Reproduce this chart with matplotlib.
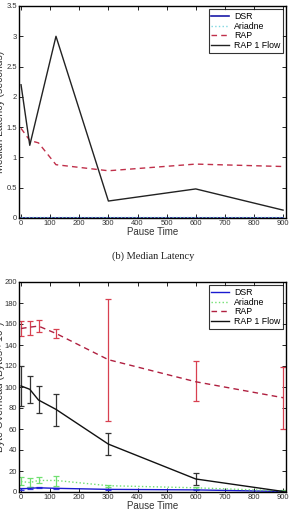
import matplotlib
matplotlib.use("Agg")
import matplotlib.pyplot as plt
import numpy as np

plt.rcParams['font.family'] = ['Liberation Sans', 'DejaVu Sans']

pause = [0, 30, 60, 120, 300, 600, 900]

# Median latency (seconds)
lat_dsr = [0.005, 0.005, 0.005, 0.005, 0.005, 0.005, 0.005]
lat_ariadne = [0.01, 0.01, 0.01, 0.01, 0.01, 0.01, 0.01]
lat_rap = [1.48, 1.28, 1.24, 0.88, 0.78, 0.89, 0.85]
lat_rap1 = [2.2, 1.2, 1.8, 3.0, 0.28, 0.48, 0.13]

# Byte overhead
ov_dsr = [3.0, 3.5, 4.0, 3.5, 2.5, 2.0, 0.5]
ov_dsr_lo = [2.0, 2.5, 3.5, 2.8, 2.0, 1.5, 0.2]
ov_dsr_hi = [4.0, 4.5, 4.5, 4.2, 3.0, 2.5, 0.8]
ov_ari = [10.0, 9.0, 11.0, 11.0, 6.0, 4.0, 1.0]
ov_ari_lo = [7.0, 5.0, 9.0, 6.0, 5.0, 3.0, 0.5]
ov_ari_hi = [14.0, 13.0, 14.0, 15.0, 7.0, 5.0, 1.5]
ov_rap = [155.7, 157.0, 158.0, 151.0, 126.0, 105.0, 89.8]
ov_rap_lo = [148.4, 150.0, 152.0, 147.0, 67.8, 86.3, 59.6]
ov_rap_hi = [162.7, 163.0, 164.0, 155.0, 184.0, 125.0, 119.4]
ov_rap1 = [101.0, 97.8, 87.6, 78.7, 45.6, 12.4, 0.5]
ov_rap1_lo = [82.0, 85.0, 74.9, 62.4, 35.4, 7.0, 0.2]
ov_rap1_hi = [120.0, 110.5, 100.7, 93.0, 56.4, 17.9, 0.8]

labels = ["DSR", "Ariadne", "RAP", "RAP 1 Flow"]
xticks = list(range(0, 901, 100))

W, H = 291, 519
fig = plt.figure(figsize=(W / 100, H / 100), dpi=100)

def style(ax):
    ax.set_xlim(-7, 910)
    ax.set_xticks(xticks)
    ax.tick_params(direction='in', top=True, right=True, labelsize=5.5,
                   length=3, width=0.6, labelcolor='#333333', pad=1.5)
    for s in ax.spines.values():
        s.set_linewidth(1.0)
    ax.set_xlabel("Pause Time", fontsize=7, labelpad=0, color='#333333')

def legend(ax, handles=None, lbls=None):
    if handles is None:
        handles, lbls = ax.get_legend_handles_labels()
    lg = ax.legend(handles, lbls, loc='upper right', fontsize=6.3, frameon=True,
                   fancybox=False, edgecolor='black', handlelength=2.0, borderpad=0.3,
                   labelspacing=0.1, handletextpad=0.6, borderaxespad=0.35)
    lg.get_frame().set_linewidth(0.8)

ax1 = fig.add_axes([19 / W, 1 - 218 / H, 267 / W, 212 / H])
ax1.plot(pause, lat_dsr, color='#1a1aa8', lw=1.2, label=labels[0])
ax1.plot(pause, lat_ariadne, color='#7fd7e0', lw=1.0, ls=':', label=labels[1])
ax1.plot(pause, lat_rap, color='#c0304a', lw=1.0, ls=(0, (4, 3)), label=labels[2])
ax1.plot(pause, lat_rap1, color='#222222', lw=1.0, label=labels[3])
ax1.set_ylim(0, 3.5)
ax1.set_yticks([0, 0.5, 1, 1.5, 2, 2.5, 3, 3.5])
ax1.set_yticklabels(["0", "0.5", "1", "1.5", "2", "2.5", "3", "3.5"])
style(ax1)
ax1.set_ylabel("Median Latency (seconds)", fontsize=7.5, color='#333333')
ax1.yaxis.set_label_coords(-0.052, 0.5)
legend(ax1)

fig.text(0.526, 1 - 256 / H, "(b) Median Latency", family=['Liberation Serif', 'DejaVu Serif'],
         fontsize=7.5, ha='center', va='center', color='#222222')

ax2 = fig.add_axes([19 / W, 1 - 492 / H, 267 / W, 210 / H])

def eb(ax, y, lo, hi, color, ecolor, ls, label):
    y = np.array(y); lo = np.array(lo); hi = np.array(hi)
    ax.errorbar(pause, y, yerr=[y - lo, hi - y], color=color, ecolor=ecolor,
                ls=ls, lw=1.0, elinewidth=0.9, capsize=2.5, capthick=0.9, label=label)

eb(ax2, ov_dsr, ov_dsr_lo, ov_dsr_hi, '#1a1ad0', '#3a3ae0', '-', labels[0])
eb(ax2, ov_ari, ov_ari_lo, ov_ari_hi, '#70e070', '#70e070', ':', labels[1])
eb(ax2, ov_rap, ov_rap_lo, ov_rap_hi, '#b02040', '#d84050', (0, (4, 3)), labels[2])
eb(ax2, ov_rap1, ov_rap1_lo, ov_rap1_hi, '#111111', '#333333', '-', labels[3])
ax2.set_ylim(0, 200)
ax2.set_yticks(range(0, 201, 20))
style(ax2)
ax2.set_ylabel("Byte Overhead (Bytes\u00d7 10\u2076)", fontsize=7.5, color='#333333')
ax2.yaxis.set_label_coords(-0.052, 0.5)
h, l = ax2.get_legend_handles_labels()
h = [x[0] for x in h]
legend(ax2, h, l)

fig.savefig("out.png", dpi=100)
